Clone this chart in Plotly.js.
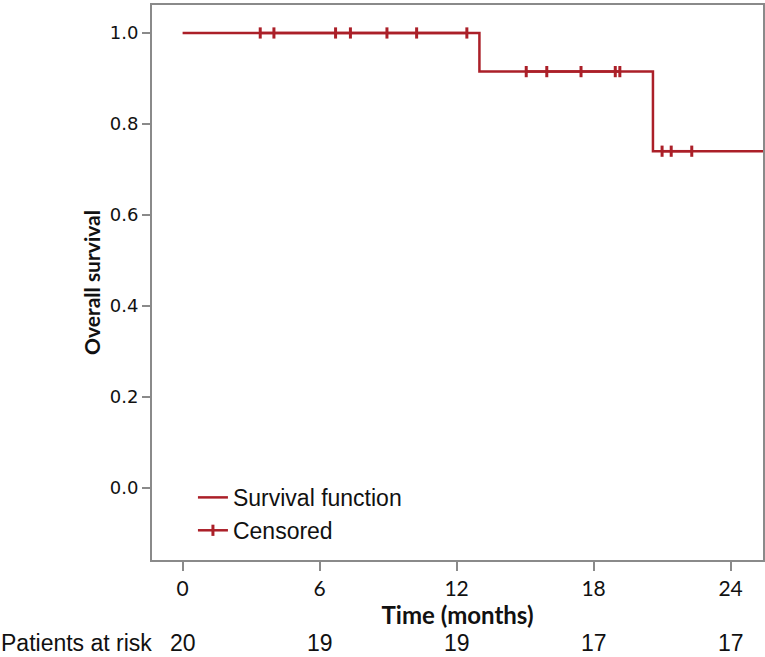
<!DOCTYPE html>
<html>
<head>
<meta charset="utf-8">
<script src="https://cdn.plot.ly/plotly-3.0.1.min.js"></script>
<style>html,body{margin:0;padding:0;background:#fff;}#chart{width:765px;height:657px;}</style>
</head>
<body>
<div id="chart"></div>
<script>
// Kaplan-Meier survival function (step points)
const survTime = [0, 13.0, 20.6, 25.6];
const survProb = [1.0, 0.915, 0.74, 0.74];

// Censored observations, grouped by step level
const censTime1 = [3.4, 4.0, 6.7, 7.35, 8.95, 10.25, 12.45];
const censProb1 = 1.0;
const censTime2 = [15.05, 15.95, 17.45, 18.95, 19.15];
const censProb2 = 0.915;
const censTime3 = [21.0, 21.4, 22.3];
const censProb3 = 0.74;

// Patients at risk table
const riskTimes = [0, 6, 12, 18, 24];
const riskCounts = [20, 19, 19, 17, 17];
const xTicks = [0, 6, 12, 18, 24];
const yTicks = [0.0, 0.2, 0.4, 0.6, 0.8, 1.0];

const red = '#ab1f28';

// build censored trace with gaps between levels
const cx = [], cy = [];
[[censTime1, censProb1], [censTime2, censProb2], [censTime3, censProb3]].forEach(([ts, p], i) => {
  if (i > 0) { cx.push(null); cy.push(null); }
  ts.forEach(t => { cx.push(t); cy.push(p); });
});

const traces = [
  {
    x: survTime, y: survProb, type: 'scatter', mode: 'lines',
    line: {shape: 'hv', color: red, width: 2.5},
    name: 'Survival function', hoverinfo: 'skip'
  },
  {
    x: cx, y: cy, type: 'scatter', mode: 'lines+markers',
    connectgaps: false,
    line: {color: red, width: 2.5},
    marker: {symbol: 'line-ns-open', size: 8, color: red, line: {color: red, width: 3}},
    name: 'Censored', hoverinfo: 'skip'
  }
];

const annotations = riskTimes.map((t, i) => ({
  x: t, y: -0.1495, xref: 'x', yref: 'paper',
  text: String(riskCounts[i]), showarrow: false,
  xanchor: 'center', yanchor: 'middle',
  font: {family: 'Liberation Sans, Arial, sans-serif', size: 23, color: '#111'}
}));
annotations.push({
  x: 0, y: -0.1495, xref: 'paper', yref: 'paper', xshift: 2,
  text: 'Patients at risk', showarrow: false,
  xanchor: 'right', yanchor: 'middle',
  font: {family: 'Liberation Sans, Arial, sans-serif', size: 23, color: '#111'}
});

const layout = {
  width: 765, height: 657,
  margin: {l: 152, r: 2, t: 5, b: 97},
  paper_bgcolor: '#fff', plot_bgcolor: '#fff',
  showlegend: true,
  legend: {
    x: 0.067, y: 0.083, xanchor: 'left', yanchor: 'middle',
    bgcolor: 'rgba(0,0,0,0)', borderwidth: 0,
    font: {family: 'Liberation Sans, Arial, sans-serif', size: 23, color: '#111'}
  },
  xaxis: {
    range: [-1.34, 25.42], tickvals: xTicks, ticktext: xTicks.map(String),
    showgrid: false, zeroline: false,
    showline: true, mirror: true, linecolor: '#8a8a8a', linewidth: 2,
    ticks: 'outside', ticklen: 9, tickwidth: 2, tickcolor: '#8a8a8a',
    tickfont: {family: 'Lato, sans-serif', size: 21, color: '#111'},
    title: {text: '<b>Time (months)</b>', standoff: 5,
            font: {family: 'Lato, sans-serif', size: 24, color: '#111'}}
  },
  yaxis: {
    range: [-0.159, 1.0615], tickvals: yTicks, ticktext: yTicks.map(v => v.toFixed(1)),
    showgrid: false, zeroline: false,
    showline: true, mirror: true, linecolor: '#8a8a8a', linewidth: 2,
    ticks: 'outside', ticklen: 8, tickwidth: 2, tickcolor: '#8a8a8a',
    tickfont: {family: 'DejaVu Sans, Verdana, sans-serif', size: 18, color: '#111'},
    title: {text: '<b>Overall survival</b>', standoff: 3,
            font: {family: 'Lato, sans-serif', size: 21, color: '#111'}}
  },
  annotations: annotations
};

Plotly.newPlot('chart', traces, layout, {displayModeBar: false, staticPlot: true});
</script>
</body>
</html>
